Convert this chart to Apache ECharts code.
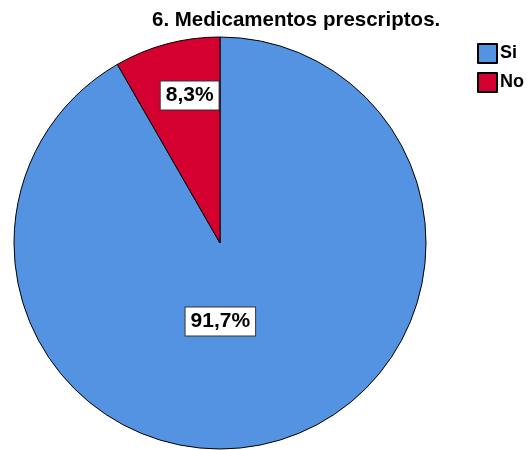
<!DOCTYPE html>
<html>
<head>
<meta charset="utf-8">
<script src="https://cdn.jsdelivr.net/npm/echarts@6/dist/echarts.min.js"></script>
<style>
  html, body { margin: 0; padding: 0; background: #fff; }
  #chart { width: 531px; height: 450px; }
</style>
</head>
<body>
<div id="chart"></div>
<script>
// Datos del gráfico
const categorias = ['Si', 'No'];
const porcentajes = [91.7, 8.3];
const colores = ['#5493E2', '#D4002F'];

// Desplazamiento de etiquetas (como en SPSS)
const ajusteEtiquetas = [
  { dx: -27, dy: -24 },
  { dx: -3, dy: -45 }
];

const chart = echarts.init(document.getElementById('chart'));

const datos = categorias.map((nombre, i) => ({
  name: nombre,
  value: porcentajes[i],
  itemStyle: { color: colores[i] }
}));

chart.setOption({
  animation: false,
  textStyle: { fontFamily: 'Liberation Sans, Arial, sans-serif' },
  title: {
    text: '6. Medicamentos prescriptos.',
    left: 152,
    top: 10,
    padding: 0,
    textStyle: { fontSize: 20.5, fontWeight: 'bold', color: '#000' }
  },
  legend: {
    orient: 'vertical',
    left: 477,
    top: 43,
    padding: 0,
    itemWidth: 19,
    itemHeight: 19,
    itemGap: 8,
    icon: 'rect',
    textStyle: { fontSize: 18, fontWeight: 'bold', color: '#000', padding: [0, 0, 0, -2] },
    data: categorias
  },
  series: [{
    type: 'pie',
    center: [220, 243],
    radius: 206,
    startAngle: 90,
    clockwise: true,
    itemStyle: { borderColor: '#000', borderWidth: 1 },
    emphasis: { disabled: true },
    labelLine: { show: false },
    label: {
      show: true,
      position: 'inside',
      fontSize: 21,
      fontWeight: 'bold',
      color: '#000',
      backgroundColor: '#fff',
      borderColor: '#333',
      borderWidth: 1,
      padding: [4, 5, 3, 5],
      formatter: p => p.value.toFixed(1).replace('.', ',') + '%'
    },
    labelLayout: p => ajusteEtiquetas[p.dataIndex],
    data: datos
  }]
});
</script>
</body>
</html>
